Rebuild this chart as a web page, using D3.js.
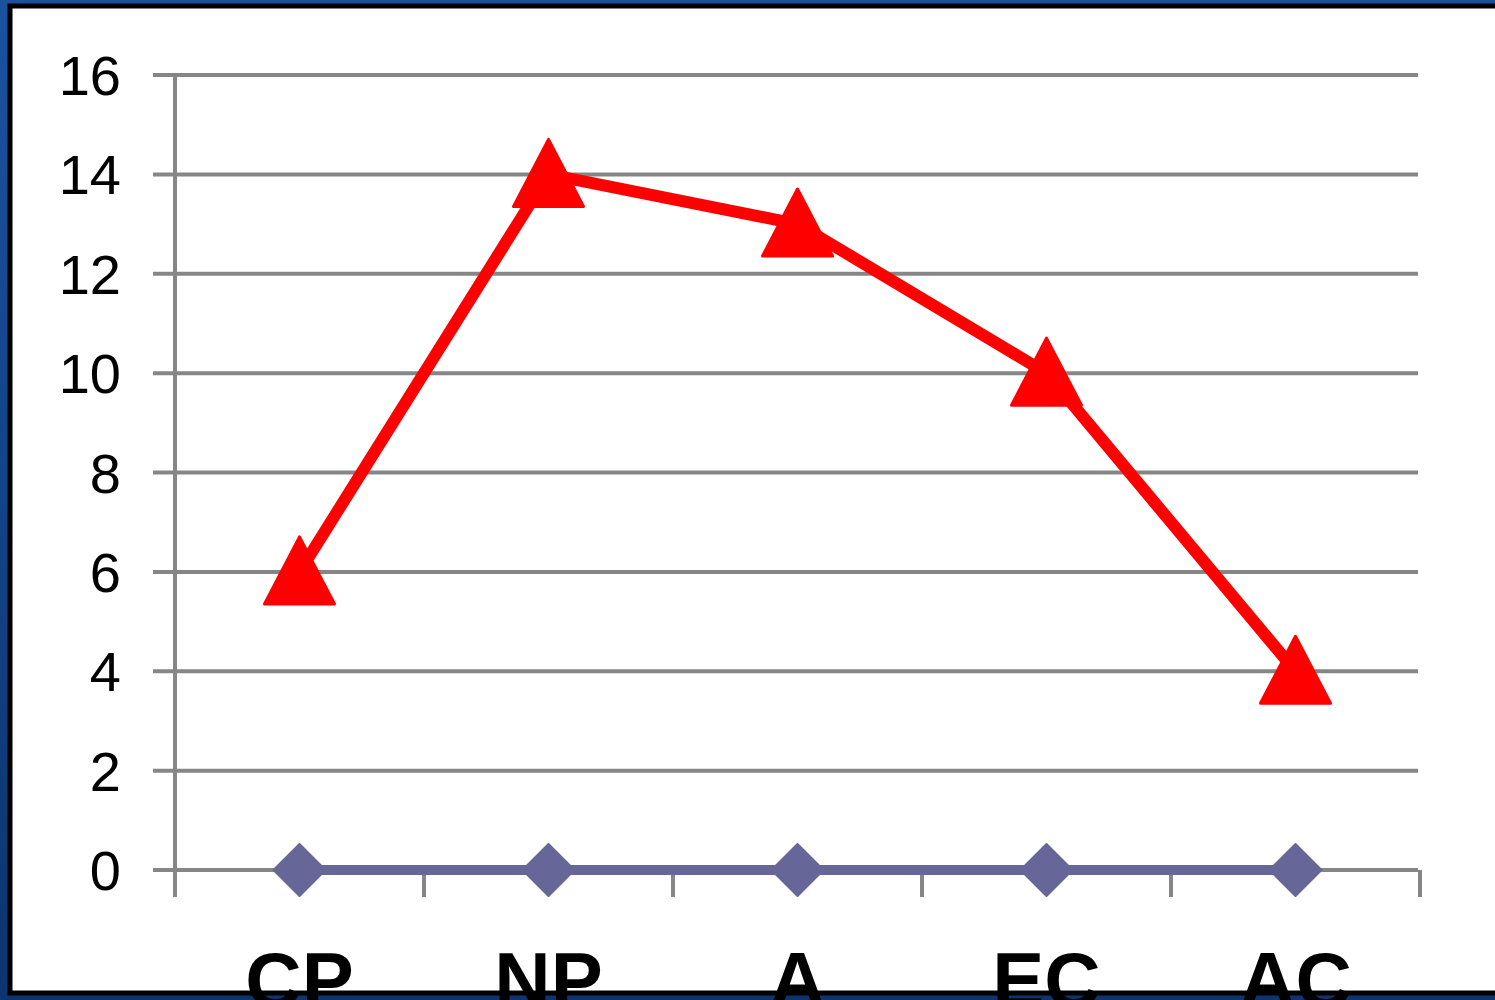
<!DOCTYPE html>
<html>
<head>
<meta charset="utf-8">
<script src="https://cdn.jsdelivr.net/npm/d3@7"></script>
<style>
  body { margin: 0; background: #154a92; }
  svg { display: block; }
</style>
</head>
<body>
<div id="canvas"></div>
<script>
let categories = ['CP', 'NP', 'A', 'EC', 'AC'];
let redValues = [6, 14, 13, 10, 4];
let blueValues = [0, 0, 0, 0, 0];
let yTicks = [0, 2, 4, 6, 8, 10, 12, 14, 16];

let width = 1495, height = 1000;

let svg = d3.select('#canvas').append('svg')
  .attr('width', width)
  .attr('height', height);

// blue slide background
let grad = svg.append('defs').append('linearGradient')
  .attr('id', 'bg').attr('x1', 0).attr('y1', 0).attr('x2', 0).attr('y2', 1);
grad.append('stop').attr('offset', '0%').attr('stop-color', '#1a52a0');
grad.append('stop').attr('offset', '100%').attr('stop-color', '#0c3470');

svg.append('rect')
  .attr('width', width).attr('height', height)
  .attr('fill', 'url(#bg)');

// white panel with black border
svg.append('rect')
  .attr('x', 10).attr('y', 6)
  .attr('width', width + 20).attr('height', 987)
  .attr('fill', 'white')
  .attr('stroke', 'black')
  .attr('stroke-width', 5);

let x = d3.scaleBand()
  .domain(categories)
  .range([175, 1420]);

let y = d3.scaleLinear()
  .domain([0, 16])
  .range([870, 75]);

// gridlines
svg.selectAll('line.grid')
  .data(yTicks)
  .enter()
  .append('line')
  .attr('class', 'grid')
  .attr('x1', 153)
  .attr('x2', 1418)
  .attr('y1', d => y(d))
  .attr('y2', d => y(d))
  .attr('stroke', '#868686')
  .attr('stroke-width', 4);

// y axis line
svg.append('line')
  .attr('x1', 175).attr('x2', 175)
  .attr('y1', y(16)).attr('y2', 897)
  .attr('stroke', '#868686')
  .attr('stroke-width', 4);

// x tick marks
let xEdges = categories.map(c => x(c)).concat([x.range()[1]]);
svg.selectAll('line.xtick')
  .data(xEdges.slice(1))
  .enter()
  .append('line')
  .attr('class', 'xtick')
  .attr('x1', d => d).attr('x2', d => d)
  .attr('y1', 870).attr('y2', 897)
  .attr('stroke', '#868686')
  .attr('stroke-width', 4);

// y labels
svg.selectAll('text.ylab')
  .data(yTicks)
  .enter()
  .append('text')
  .attr('class', 'ylab')
  .attr('x', 121)
  .attr('y', d => y(d) + 20)
  .attr('text-anchor', 'end')
  .attr('font-family', 'Liberation Sans, Arial, sans-serif')
  .attr('font-size', 56)
  .attr('fill', 'black')
  .text(d => d);

// x labels (cut by the panel border)
svg.selectAll('text.xlab')
  .data(categories)
  .enter()
  .append('text')
  .attr('class', 'xlab')
  .attr('x', d => x(d) + x.bandwidth() / 2)
  .attr('y', 1007)
  .attr('text-anchor', 'middle')
  .attr('font-family', 'Liberation Sans, Arial, sans-serif')
  .attr('font-weight', 'bold')
  .attr('font-size', 78)
  .attr('fill', 'black')
  .text(d => d);

let cx = (d, i) => x(categories[i]) + x.bandwidth() / 2;

let line = d3.line()
  .x(cx)
  .y(d => y(d));

// blue series
svg.append('path')
  .datum(blueValues)
  .attr('d', line)
  .attr('fill', 'none')
  .attr('stroke', '#666699')
  .attr('stroke-width', 10);

svg.selectAll('path.diamond')
  .data(blueValues)
  .enter()
  .append('path')
  .attr('class', 'diamond')
  .attr('transform', (d, i) => 'translate(' + cx(d, i) + ',' + y(d) + ')')
  .attr('d', 'M0,-26L26,0L0,26L-26,0Z')
  .attr('fill', '#666699')
  .attr('stroke', '#666699')
  .attr('stroke-width', 2)
  .attr('stroke-linejoin', 'round');

// red series
svg.append('path')
  .datum(redValues)
  .attr('d', line)
  .attr('fill', 'none')
  .attr('stroke', '#ff0000')
  .attr('stroke-width', 12)
  .attr('stroke-linejoin', 'round');

svg.selectAll('path.tri')
  .data(redValues)
  .enter()
  .append('path')
  .attr('class', 'tri')
  .attr('transform', (d, i) => 'translate(' + cx(d, i) + ',' + y(d) + ')')
  .attr('d', 'M0,-35L35,32L-35,32Z')
  .attr('fill', '#ff0000')
  .attr('stroke', '#ff0000')
  .attr('stroke-width', 3)
  .attr('stroke-linejoin', 'round');
</script>
</body>
</html>
